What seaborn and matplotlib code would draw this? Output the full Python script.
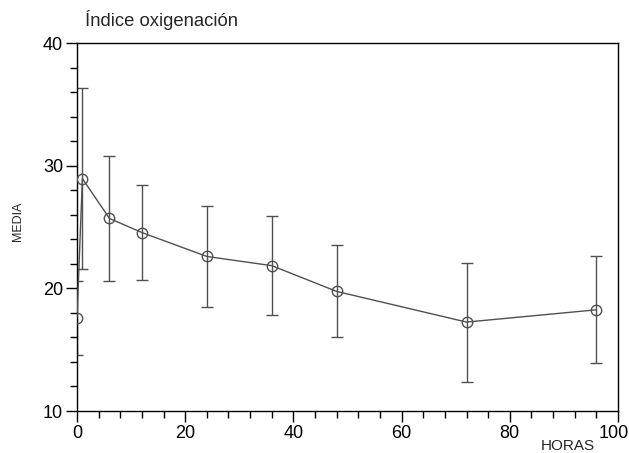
import numpy as np
import pandas as pd
import matplotlib
matplotlib.use('Agg')
import matplotlib.pyplot as plt
import matplotlib.transforms as mtransforms
import seaborn as sns
from matplotlib.ticker import MultipleLocator

horas = [0, 1, 6, 12, 24, 36, 48, 72, 96]
media = [17.6, 28.95, 25.7, 24.55, 22.6, 21.85, 19.75, 17.25, 18.25]
desv = [3.0, 7.4, 5.1, 3.9, 4.1, 4.05, 3.75, 4.85, 4.35]

df = pd.DataFrame({'horas': horas, 'media': media, 'desv': desv})

sns.set_theme(style="ticks")
plt.rcParams['font.family'] = ['Liberation Sans', 'DejaVu Sans']

fig = plt.figure(figsize=(6.29, 4.53), dpi=100)
ax = fig.add_axes([0.1224, 0.0927, 0.8601, 0.8123])

gris = '#505050'
ax.errorbar(df['horas'], df['media'], yerr=df['desv'], fmt='none',
            ecolor=gris, elinewidth=1.0, capsize=4.5, capthick=1.0, zorder=2)
sns.lineplot(data=df, x='horas', y='media', ax=ax, color=gris, linewidth=1.0,
             marker='o', markersize=7.5, markerfacecolor='none',
             markeredgecolor=gris, markeredgewidth=1.0, zorder=3)

ax.set_xlim(0, 100)
ax.set_ylim(10, 40)
ax.xaxis.set_major_locator(MultipleLocator(20))
ax.xaxis.set_minor_locator(MultipleLocator(4))
ax.yaxis.set_major_locator(MultipleLocator(10))
ax.yaxis.set_minor_locator(MultipleLocator(2))
ax.tick_params(axis='both', which='major', direction='out', length=8, width=1,
               color='black', labelsize=13, pad=2, labelcolor='black')
ax.tick_params(axis='both', which='minor', direction='out', length=5, width=1,
               color='black')
for s in ax.spines.values():
    s.set_color('black')
    s.set_linewidth(1.0)

ax.set_xlabel('')
ax.set_ylabel('')
fig.text(0.029, 0.512, 'MEDIA', rotation=90, ha='center', va='center', fontsize=9)
fig.text(0.903, 0.006, 'HORAS', ha='center', va='baseline', fontsize=11)
fig.text(0.135, 0.956, 'Índice oxigenación', ha='left', va='center', fontsize=13.3)

# el "100" queda pegado al borde derecho: correrlo un poco
fig.canvas.draw()
for t in ax.xaxis.get_major_ticks():
    if t.label1.get_text() == '100':
        t.label1.set_horizontalalignment('right')
        t.label1.set_transform(t.label1.get_transform() +
                               mtransforms.ScaledTranslation(0.105, 0, fig.dpi_scale_trans))

fig.savefig('out.png', dpi=100)
